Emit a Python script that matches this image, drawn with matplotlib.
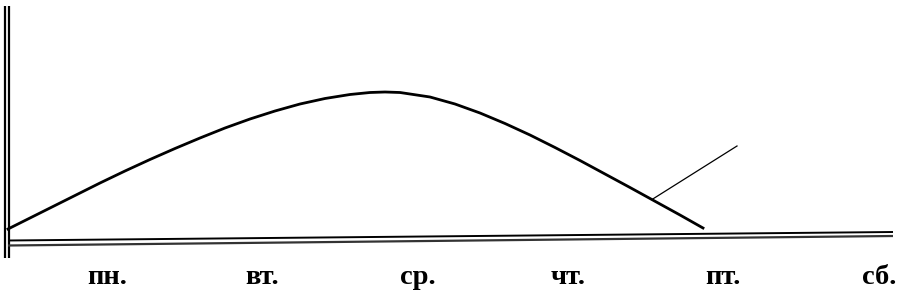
import numpy as np
import matplotlib.pyplot as plt

# curve (pixel-like units, y grows downward)
curve_x = [8, 30, 50, 75, 100, 125, 150, 175, 200, 225, 250, 275, 300, 325, 350,
           370, 385, 400, 430, 455, 480, 505, 530, 555, 580, 605, 630, 650, 680, 703]
curve_y = [229, 218, 208, 195.5, 183, 171, 159.5, 148.5, 138, 128, 119, 111, 104, 98.5, 94.5,
           92.5, 92, 92.5, 97, 104, 113, 123.5, 135, 147.5, 160.5, 174, 187.5, 198.5, 215, 228]

# thin pointer line
pointer_x = [652, 737]
pointer_y = [199.5, 146]

# axes (double lines)
haxis_x = [8, 893]
haxis_top = [240.5, 232]
haxis_bot = [245.5, 236]
vaxis_y = [6, 258]
vaxis_x = [5, 9]

days = ["пн.", "вт.", "ср.", "чт.", "пт.", "сб."]
day_x = [107, 262, 418, 568, 723, 879]
day_base = 284

fig = plt.figure(figsize=(8.98, 2.93), dpi=100)
ax = fig.add_axes([0, 0, 1, 1])
ax.set_xlim(0, 898)
ax.set_ylim(293, 0)
ax.axis("off")

# vertical double line
for vx in vaxis_x:
    ax.plot([vx, vx], vaxis_y, color="black", lw=1.6, solid_capstyle="butt")

# horizontal double line
ax.plot(haxis_x, haxis_top, color="black", lw=1.4, solid_capstyle="butt")
ax.plot(haxis_x, haxis_bot, color="#333333", lw=1.6, solid_capstyle="butt")

ax.plot(curve_x, curve_y, color="black", lw=2.0, solid_joinstyle="round")
ax.plot(pointer_x, pointer_y, color="black", lw=0.9)

for d, x in zip(days, day_x):
    ax.text(x, day_base, d, ha="center", va="baseline", fontsize=20.5,
            fontweight="bold", family="Liberation Serif")

fig.savefig("out.png", dpi=100)
